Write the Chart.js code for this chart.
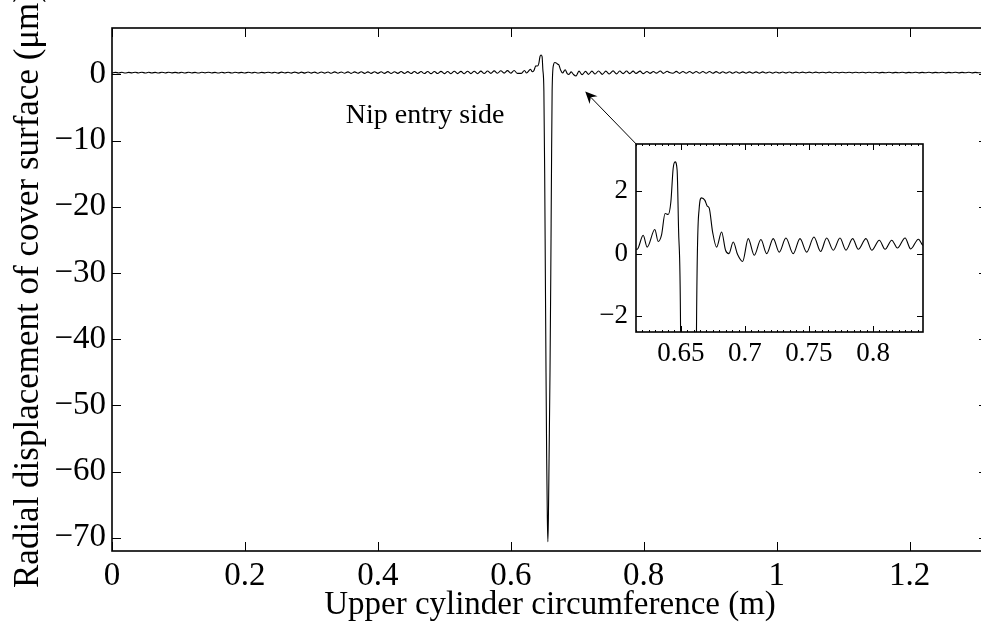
<!DOCTYPE html>
<html>
<head>
<meta charset="utf-8">
<script src="https://cdn.jsdelivr.net/npm/chart.js@4.4.1/dist/chart.umd.min.js"></script>
<style>
  html, body { margin: 0; padding: 0; background: #fff; }
  #wrap { position: relative; width: 981px; height: 628px; overflow: hidden; }
  #main { position: absolute; left: 0; top: 0; }
  #inset { position: absolute; left: 560px; top: 130px; }
</style>
</head>
<body>
<div id="wrap">
  <!-- the right edge of the axes box runs just past the picture, so the canvas is a bit wider than the view -->
  <canvas id="main" width="990" height="628"></canvas>
  <canvas id="inset" width="380" height="240"></canvas>
</div>
<script>
// radial displacement (um) along the upper cylinder circumference (m)
const farLeftX = [0,0.005,0.01,0.015,0.02,0.025,0.03,0.035,0.04,0.045,
  0.05,0.055,0.06,0.065,0.07,0.075,0.08,0.085,0.09,0.095,
  0.1,0.105,0.11,0.115,0.12,0.125,0.13,0.135,0.14,0.145,
  0.15,0.155,0.16,0.165,0.17,0.175,0.18,0.185,0.19,0.195,
  0.2,0.205,0.21,0.215,0.22,0.225,0.23,0.235,0.24,0.245,
  0.25,0.255,0.26,0.265,0.27,0.275,0.28,0.285,0.29,0.295,
  0.3,0.305,0.31,0.315,0.32,0.325,0.33,0.335,0.34,0.345,
  0.35,0.355,0.36,0.365,0.37,0.375,0.38,0.385,0.39,0.395,
  0.4,0.405,0.41,0.415,0.42,0.425,0.43,0.435,0.44,0.445,
  0.45,0.455,0.46,0.465,0.47,0.475,0.48,0.485,0.49,0.495,
  0.5,0.505,0.51,0.515,0.52,0.525,0.53,0.535,0.54,0.545,
  0.55,0.555,0.56,0.565,0.57,0.575,0.58,0.585,0.59,0.595,
  0.6,0.605,0.61];
const farLeftY = [0.20,0.30,0.21,0.31,0.20,0.30,0.22,0.31,0.21,0.32,
  0.20,0.31,0.21,0.30,0.20,0.32,0.21,0.31,0.22,0.30,
  0.21,0.31,0.20,0.32,0.21,0.30,0.20,0.31,0.22,0.32,
  0.21,0.30,0.20,0.31,0.21,0.32,0.20,0.31,0.22,0.30,
  0.20,0.32,0.21,0.31,0.20,0.30,0.22,0.32,0.21,0.31,
  0.19,0.33,0.20,0.32,0.19,0.34,0.18,0.33,0.19,0.35,
  0.18,0.34,0.17,0.36,0.18,0.35,0.16,0.37,0.17,0.36,
  0.16,0.38,0.15,0.37,0.16,0.39,0.15,0.38,0.14,0.40,
  0.15,0.39,0.14,0.41,0.13,0.40,0.14,0.42,0.13,0.41,
  0.12,0.43,0.13,0.42,0.12,0.44,0.11,0.43,0.12,0.45,
  0.11,0.44,0.10,0.46,0.11,0.45,0.10,0.47,0.11,0.46,
  0.10,0.48,0.12,0.50,0.14,0.52,0.16,0.55,0.18,0.56,
  0.17,0.58,0.14];

const nipX = [0.6159,0.6206,0.6237,0.6297,0.6323,0.6349,0.6377,0.6401,0.6422,0.6440,
  0.6455,0.6471,0.6482,0.6498,0.6510,0.6520,0.6530,0.6540,0.6550,0.6558,
  0.6566,0.6576,0.6590,0.6602,0.6612,0.6622,0.6643,0.6661,0.6688,0.6706,
  0.6721,0.6748,0.6779,0.6818,0.6849,0.6875,0.6909,0.6943,0.6982,0.7026,
  0.7073,0.7125,0.7170,0.7221,0.7268,0.7320,0.7377,0.7430,0.7482,0.7539,
  0.7591,0.7638,0.7690,0.7742,0.7789,0.7841,0.7885,0.7945,0.7990,0.8049,
  0.8094,0.8146,0.8190,0.8250,0.8294,0.8354,0.8388];
const nipY = [0.14,0.59,0.21,0.77,0.39,0.59,1.28,1.25,1.65,2.72,
  2.93,2.66,0.80,-2.5,-15,-30,-45,-58,-67,-70.6,
  -67,-58,-45,-30,-15,-2.5,1.44,1.78,1.70,1.52,
  1.46,0.69,0.21,0.69,0.11,0.00,0.37,-0.03,-0.25,0.48,
  -0.05,0.45,0.00,0.48,0.05,0.50,0.00,0.48,0.05,0.53,
  0.07,0.50,0.11,0.50,0.11,0.48,0.14,0.48,0.11,0.43,
  0.14,0.43,0.18,0.50,0.15,0.46,0.27];

const farRightX = [0.844,0.849,0.854,0.859,0.864,0.869,0.874,0.879,0.884,0.889,
  0.894,0.899,0.904,0.909,0.914,0.919,0.924,0.929,0.934,0.939,
  0.944,0.949,0.954,0.959,0.964,0.969,0.974,0.979,0.984,0.989,
  0.994,0.999,1.004,1.009,1.014,1.019,1.024,1.029,1.034,1.039,
  1.044,1.049,1.054,1.059,1.064,1.069,1.074,1.079,1.084,1.089,
  1.094,1.099,1.104,1.109,1.114,1.119,1.124,1.129,1.134,1.139,
  1.144,1.149,1.154,1.159,1.164,1.169,1.174,1.179,1.184,1.189,
  1.194,1.199,1.204,1.209,1.214,1.219,1.224,1.229,1.234,1.239,
  1.244,1.249,1.254,1.259,1.264,1.269,1.274,1.279,1.284,1.289,
  1.294,1.299,1.304,1.308];
const farRightY = [0.16,0.45,0.15,0.44,0.16,0.44,0.15,0.43,0.16,0.42,
  0.17,0.42,0.16,0.41,0.17,0.40,0.18,0.40,0.17,0.39,
  0.18,0.38,0.19,0.38,0.18,0.37,0.19,0.37,0.20,0.36,
  0.19,0.36,0.20,0.35,0.21,0.35,0.20,0.34,0.21,0.34,
  0.22,0.33,0.21,0.33,0.22,0.32,0.22,0.33,0.21,0.32,
  0.22,0.31,0.23,0.32,0.22,0.31,0.23,0.31,0.22,0.32,
  0.23,0.31,0.22,0.30,0.23,0.31,0.22,0.30,0.23,0.31,
  0.22,0.30,0.23,0.31,0.22,0.30,0.23,0.31,0.22,0.30,
  0.23,0.31,0.22,0.30,0.23,0.31,0.22,0.30,0.23,0.31,
  0.22,0.30,0.23,0.25];

const xTicks = [0, 0.2, 0.4, 0.6, 0.8, 1, 1.2];
const xTickLabels = ['0', '0.2', '0.4', '0.6', '0.8', '1', '1.2'];
const yTicks = [-70, -60, -50, -40, -30, -20, -10, 0];
const yTickLabels = ['\u221270', '\u221260', '\u221250', '\u221240', '\u221230', '\u221220', '\u221210', '0'];
const insetXTicks = [0.65, 0.7, 0.75, 0.8];
const insetXTickLabels = ['0.65', '0.7', '0.75', '0.8'];
const insetYTicks = [-2, 0, 2];
const insetYTickLabels = ['\u22122', '0', '2'];

const serif = '"Liberation Serif", "DejaVu Serif", serif';

const points = [];
[[farLeftX, farLeftY], [nipX, nipY], [farRightX, farRightY]].forEach(([xs, ys]) => {
  xs.forEach((x, i) => points.push({ x: x, y: ys[i] }));
});

// matlab style box with inward ticks on all four sides
const boxPlugin = {
  id: 'matlabBox',
  afterDraw(chart, args, o) {
    const { ctx, chartArea: a } = chart;
    const sx = chart.scales.x, sy = chart.scales.y;
    ctx.save();
    ctx.strokeStyle = '#000';
    ctx.lineWidth = 1;
    ctx.beginPath();
    o.xTicks.forEach(v => {
      const px = Math.round(sx.getPixelForValue(v)) + 0.5;
      ctx.moveTo(px, a.bottom); ctx.lineTo(px, a.bottom - o.len);
      ctx.moveTo(px, a.top); ctx.lineTo(px, a.top + o.len);
    });
    o.yTicks.forEach(v => {
      const py = Math.round(sy.getPixelForValue(v)) + 0.5;
      ctx.moveTo(a.left, py); ctx.lineTo(a.left + o.len, py);
      ctx.moveTo(a.right, py); ctx.lineTo(a.right - o.len, py);
    });
    if (o.minorStep) {
      for (let v = Math.ceil(sx.min / o.minorStep) * o.minorStep; v <= sx.max; v += o.minorStep) {
        const px = Math.round(sx.getPixelForValue(v)) + 0.5;
        ctx.moveTo(px, a.bottom); ctx.lineTo(px, a.bottom - 2);
        ctx.moveTo(px, a.top); ctx.lineTo(px, a.top + 2);
      }
    }
    ctx.stroke();
    ctx.lineWidth = o.boxWidth;
    ctx.strokeRect(a.left, a.top, a.right - a.left, a.bottom - a.top);
    ctx.restore();
  }
};

// axis titles, the arrow and its note on the main axes
const notesPlugin = {
  id: 'notes',
  afterDraw(chart, args, o) {
    const { ctx, chartArea: a } = chart;
    const sx = chart.scales.x, sy = chart.scales.y;
    ctx.save();
    ctx.fillStyle = '#000';
    ctx.strokeStyle = '#000';

    ctx.font = '28px ' + serif;
    ctx.textAlign = 'center';
    ctx.textBaseline = 'alphabetic';
    ctx.fillText(o.note.text, sx.getPixelForValue(o.note.x), sy.getPixelForValue(o.note.y));

    const x0 = sx.getPixelForValue(o.arrow.from[0]), y0 = sy.getPixelForValue(o.arrow.from[1]);
    const x1 = sx.getPixelForValue(o.arrow.to[0]), y1 = sy.getPixelForValue(o.arrow.to[1]);
    const ang = Math.atan2(y1 - y0, x1 - x0);
    ctx.lineWidth = 1;
    ctx.beginPath();
    ctx.moveTo(x0, y0);
    ctx.lineTo(x1 - 8 * Math.cos(ang), y1 - 8 * Math.sin(ang));
    ctx.stroke();
    const hl = 12, hw = 5.5;
    const bx = x1 - hl * Math.cos(ang), by = y1 - hl * Math.sin(ang);
    const nx = -Math.sin(ang), ny = Math.cos(ang);
    ctx.beginPath();
    ctx.moveTo(x1, y1);
    ctx.lineTo(bx + hw * nx, by + hw * ny);
    ctx.lineTo(x1 - 8 * Math.cos(ang), y1 - 8 * Math.sin(ang));
    ctx.lineTo(bx - hw * nx, by - hw * ny);
    ctx.closePath();
    ctx.fill();

    ctx.font = '33px ' + serif;
    ctx.fillText(o.xTitle, (a.left + a.right) / 2, o.xTitleY);
    ctx.translate(o.yTitleX, (a.top + a.bottom) / 2);
    ctx.rotate(-Math.PI / 2);
    ctx.font = '35px ' + serif;
    ctx.fillText(o.yTitle, 0, 0);
    ctx.restore();
  }
};

function axis(min, max, ticks, labels, size, pad, fit) {
  return {
    type: 'linear', min: min, max: max,
    afterBuildTicks: s => { s.ticks = ticks.map(v => ({ value: v })); },
    afterFit: fit,
    grid: { display: false, drawTicks: false },
    border: { display: false },
    ticks: {
      autoSkip: false, maxRotation: 0, color: '#000', padding: pad,
      font: { family: serif, size: size },
      callback: (v, i) => labels[i]
    }
  };
}

const curve = () => ({
  data: points,
  borderColor: '#000',
  borderWidth: 1.1,
  pointRadius: 0,
  fill: false,
  cubicInterpolationMode: 'monotone'
});

new Chart(document.getElementById('main'), {
  type: 'line',
  data: { datasets: [curve()] },
  options: {
    responsive: false, animation: false, events: [],
    layout: { padding: { top: 28, right: 2, left: 0, bottom: 0 } },
    plugins: {
      legend: { display: false }, tooltip: { enabled: false },
      matlabBox: { xTicks: xTicks, yTicks: yTicks, len: 9, boxWidth: 1.6 },
      notes: {
        note: { text: 'Nip entry side', x: 0.471, y: -7.4 },
        arrow: { from: [0.7887, -10.53], to: [0.712, -2.6] },
        xTitle: 'Upper cylinder circumference (m)', xTitleY: 614,
        yTitle: 'Radial displacement of cover surface (\u03bcm)', yTitleX: 38
      }
    },
    scales: {
      x: axis(0, 1.318, xTicks, xTickLabels, 33, 6, s => { s.height = 77; s.paddingLeft = 0; s.paddingRight = 0; }),
      y: axis(-72, 7, yTicks, yTickLabels, 33, 6, s => { s.width = 112; s.paddingTop = 0; s.paddingBottom = 0; })
    }
  },
  plugins: [boxPlugin, notesPlugin]
});

new Chart(document.getElementById('inset'), {
  type: 'line',
  data: { datasets: [curve()] },
  options: {
    responsive: false, animation: false, events: [],
    layout: { padding: { top: 14, right: 17, left: 0, bottom: 0 } },
    plugins: {
      legend: { display: false }, tooltip: { enabled: false },
      matlabBox: { xTicks: insetXTicks, yTicks: insetYTicks, len: 6, boxWidth: 1.6, minorStep: 0.005 }
    },
    scales: {
      x: axis(0.615, 0.839, insetXTicks, insetXTickLabels, 27, 6, s => { s.height = 38; s.paddingLeft = 0; s.paddingRight = 0; }),
      y: axis(-2.5, 3.5, insetYTicks, insetYTickLabels, 27, 8, s => { s.width = 76; s.paddingTop = 0; s.paddingBottom = 0; })
    }
  },
  plugins: [boxPlugin]
});
</script>
</body>
</html>
